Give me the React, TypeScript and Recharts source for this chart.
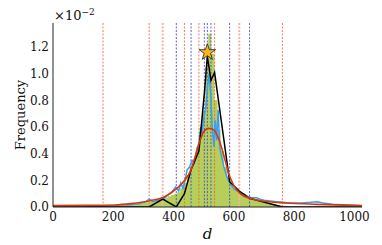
import {
  ComposedChart,
  Area,
  Line,
  Scatter,
  XAxis,
  YAxis,
  ZAxis,
  ReferenceLine,
} from 'recharts'

// histogram bins (values in units of 1e-2)
const histCenters = [
  180, 191, 201, 211, 221, 232, 242, 252, 263, 273, 283, 294, 304, 314, 324, 335, 345, 355, 366, 376, 386,
  397, 407, 417, 427, 438, 448, 458, 469, 479, 489, 500, 510, 520, 530, 541, 551, 561, 572, 582, 592,
  603, 613, 623, 633, 644, 654, 664, 675, 685, 695, 706, 716, 726, 736, 747, 757, 767, 778, 788,
]
const histFreq = [
  0, 0.005, 0.01, 0.01, 0.01, 0.015, 0.015, 0.02, 0.02, 0.02, 0.025, 0.025, 0.03, 0.035, 0.04, 0.045, 0.05, 0.06, 0.07, 0.07, 0.08,
  0.09, 0.1, 0.11, 0.14, 0.18, 0.24, 0.3, 0.36, 0.45, 0.56, 0.72, 1.05, 1.3, 1.15, 0.8, 0.58, 0.42, 0.3, 0.22, 0.17,
  0.14, 0.12, 0.1, 0.09, 0.08, 0.07, 0.06, 0.05, 0.045, 0.04, 0.035, 0.03, 0.025, 0.02, 0.015, 0.01, 0.01, 0.005, 0,
]

// noisy empirical curve (blue)
const blueD = [
  0, 103, 155, 206, 227, 247, 268, 288, 309, 319, 330, 350, 366, 376, 386, 397, 407, 417, 424, 431,
  438, 445, 453, 461, 469, 476, 484, 490, 494, 501, 507, 513, 518, 523, 528, 534, 538, 543, 548, 553,
  559, 567, 575, 582, 592, 603, 613, 623, 633, 644, 659, 675, 685, 700, 721, 742, 762, 783, 803, 824,
  855, 876, 896, 927, 979, 1025,
]
const blueF = [
  0, 0, 0.005, 0.01, 0.02, 0.015, 0.02, 0.025, 0.04, 0.06, 0.04, 0.05, 0.06, 0.08, 0.1, 0.12, 0.15, 0.12, 0.18, 0.14,
  0.2, 0.28, 0.3, 0.35, 0.33, 0.42, 0.48, 0.6, 0.55, 0.68, 0.75, 0.9, 1.0, 0.85, 0.6, 0.45, 0.65, 0.5, 0.73, 0.45,
  0.38, 0.3, 0.24, 0.2, 0.16, 0.13, 0.12, 0.1, 0.1, 0.08, 0.07, 0.07, 0.06, 0.05, 0.045, 0.04, 0.035, 0.03, 0.03, 0.03,
  0.035, 0.04, 0.03, 0.02, 0.015, 0.01,
]

// fitted smooth curve (red)
const redD = [0, 103, 206, 258, 322, 367, 411, 433, 455, 472, 488, 500, 516, 532, 549, 565, 583, 599, 621, 654, 688, 773, 875, 1025]
const redF = [0.01, 0.012, 0.015, 0.025, 0.047, 0.073, 0.14, 0.19, 0.265, 0.38, 0.5, 0.565, 0.59, 0.58, 0.515, 0.4, 0.25, 0.165, 0.1, 0.065, 0.047, 0.03, 0.02, 0.01]

// piecewise-linear estimate (black)
const blackD = [0, 166, 319, 364, 409, 436, 458, 484, 502, 512, 524, 536, 586, 618, 652, 761, 1025]
const blackF = [0, 0, 0, 0.06, 0, 0.1, 0.28, 0.42, 0.85, 1.13, 0.95, 1.01, 0.19, 0.12, 0.065, 0, 0]

// vertical dashed markers
const redMarks = [166, 319, 436, 484, 536, 761]
const pinkMarks = [364, 618]
const blueMarks = [409, 458, 502, 512, 524, 586, 652]

const starD = [512]
const starF = [1.16]

const xMajor = [0, 200, 400, 600, 800, 1000]
const xMinor = [50, 100, 150, 250, 300, 350, 450, 500, 550, 650, 700, 750, 850, 900, 950]
const yMajor = [0, 0.2, 0.4, 0.6, 0.8, 1.0, 1.2]
const yMinor = [0.05, 0.1, 0.15, 0.25, 0.3, 0.35, 0.45, 0.5, 0.55, 0.65, 0.7, 0.75, 0.85, 0.9, 0.95, 1.05, 1.1, 1.15, 1.25, 1.3, 1.35]

const histData = histCenters.map((x, i) => ({ x, f: histFreq[i] }))
const blueData = blueD.map((x, i) => ({ x, f: blueF[i] }))
const redData = redD.map((x, i) => ({ x, f: redF[i] }))
const blackData = blackD.map((x, i) => ({ x, f: blackF[i] }))
const starData = starD.map((x, i) => ({ x, f: starF[i] }))

const FONT = "'DejaVu Serif', serif"
const TICK = { fontSize: 12, fill: '#111', fontFamily: FONT }
const X_DOMAIN: [number, number] = [0, 1025]
const Y_DOMAIN: [number, number] = [0, 1.38]

export default function App() {
  return (
    <div style={{ position: 'relative', width: 374, height: 237, fontFamily: FONT }}>
      <div style={{ position: 'absolute', left: 46, top: -1, fontSize: 13, color: '#111', fontFamily: FONT }}>
        ×10<sup style={{ fontSize: 9 }}>−2</sup>
      </div>
      <ComposedChart
        width={374}
        height={237}
        data={histData}
        margin={{ top: 15, right: 20, left: 10, bottom: 8 }}
        style={{ fontFamily: FONT }}
      >
        {/* labelled axes */}
        <XAxis
          dataKey="x"
          type="number"
          domain={X_DOMAIN}
          ticks={xMajor}
          allowDataOverflow
          tick={TICK}
          tickLine={false}
          tickSize={0}
          tickMargin={5}
          height={30}
          stroke="#222"
          label={{ value: 'd', position: 'insideBottom', offset: -2, fontSize: 15, fontStyle: 'italic', fontFamily: FONT, fill: '#111' }}
        />
        <YAxis
          type="number"
          domain={Y_DOMAIN}
          ticks={yMajor}
          allowDataOverflow
          tick={TICK}
          tickFormatter={(v: number) => v.toFixed(1)}
          tickLine={false}
          tickSize={0}
          tickMargin={4}
          width={35}
          stroke="#222"
          label={{ value: 'Frequency', angle: -90, position: 'insideLeft', offset: 2, fontSize: 13, fontFamily: FONT, fill: '#111', style: { textAnchor: 'middle' } }}
        />
        {/* inward ticks on all four sides */}
        <XAxis xAxisId="bMaj" type="number" dataKey="x" domain={X_DOMAIN} ticks={xMajor} mirror height={0} tick={false} tickSize={4} axisLine={false} stroke="#222" />
        <XAxis xAxisId="bMin" type="number" dataKey="x" domain={X_DOMAIN} ticks={xMinor} mirror height={0} tick={false} tickSize={2} axisLine={false} stroke="#222" />
        <XAxis xAxisId="tMaj" orientation="top" type="number" dataKey="x" domain={X_DOMAIN} ticks={xMajor} mirror height={0} tick={false} tickSize={4} stroke="#222" />
        <XAxis xAxisId="tMin" orientation="top" type="number" dataKey="x" domain={X_DOMAIN} ticks={xMinor} mirror height={0} tick={false} tickSize={2} axisLine={false} stroke="#222" />
        <YAxis yAxisId="lMaj" type="number" domain={Y_DOMAIN} ticks={yMajor} mirror width={0} tick={false} tickSize={4} axisLine={false} stroke="#222" />
        <YAxis yAxisId="lMin" type="number" domain={Y_DOMAIN} ticks={yMinor} mirror width={0} tick={false} tickSize={2} axisLine={false} stroke="#222" />
        <YAxis yAxisId="rMaj" orientation="right" type="number" domain={Y_DOMAIN} ticks={yMajor} mirror width={0} tick={false} tickSize={4} stroke="#222" />
        <YAxis yAxisId="rMin" orientation="right" type="number" domain={Y_DOMAIN} ticks={yMinor} mirror width={0} tick={false} tickSize={2} axisLine={false} stroke="#222" />
        <ZAxis range={[85, 85]} />

        <Area dataKey="f" type="step" fill="#b5cf5a" fillOpacity={1} stroke="none" isAnimationActive={false} />

        {pinkMarks.map((x) => (
          <ReferenceLine key={'p' + x} x={x} stroke="#f6b3a8" strokeWidth={2} strokeDasharray="2 1.5" />
        ))}
        {redMarks.map((x) => (
          <ReferenceLine key={'r' + x} x={x} stroke="#ef5a3c" strokeWidth={0.8} strokeDasharray="2 1.5" />
        ))}
        {blueMarks.map((x) => (
          <ReferenceLine key={'b' + x} x={x} stroke="#3b3bd8" strokeWidth={0.8} strokeDasharray="2 1.5" />
        ))}

        <Line data={blueData} dataKey="f" type="linear" stroke="#3a9df2" strokeWidth={1.5} dot={false} isAnimationActive={false} />
        <Line data={blackData} dataKey="f" type="linear" stroke="#000" strokeWidth={1.5} dot={false} isAnimationActive={false} />
        <Line data={redData} dataKey="f" type="monotone" stroke="#d8380c" strokeWidth={1.6} dot={false} isAnimationActive={false} />
        <Scatter data={starData} dataKey="f" shape="star" fill="#ffb21a" stroke="#222" strokeWidth={0.8} isAnimationActive={false} />
      </ComposedChart>
    </div>
  )
}
